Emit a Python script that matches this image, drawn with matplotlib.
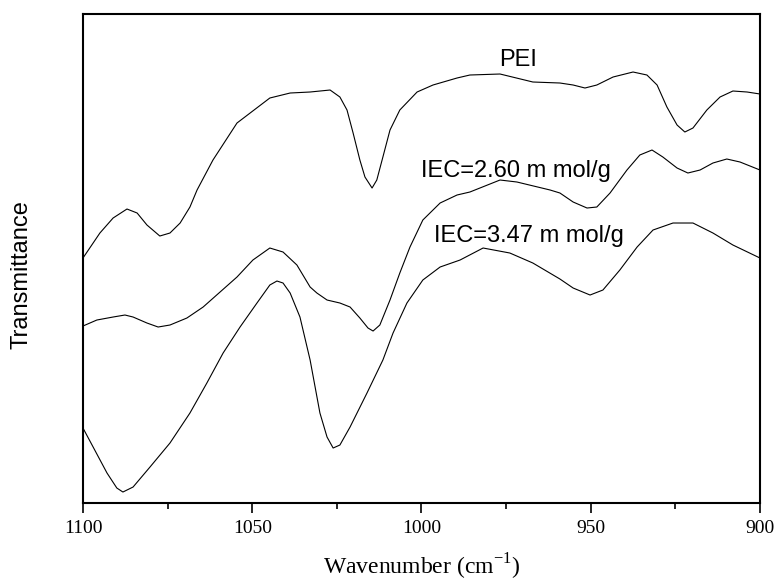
import matplotlib.pyplot as plt
from matplotlib.ticker import MultipleLocator

# =========================
# Data (transmittance in arbitrary units)
# =========================
pei_wn = [1100, 1095.0, 1091.1, 1087.0, 1084.0, 1081.1, 1077.3, 1074.3, 1071.3,
          1068.4, 1066.3, 1061.6, 1054.5, 1044.8, 1038.8, 1032.9, 1027.0, 1024.1,
          1022.0, 1020.2, 1018.2, 1016.7, 1014.6, 1013.2, 1011.4, 1009.3, 1006.4,
          1001.3, 996.6, 989.5, 985.7, 976.8, 967.1, 959.1, 955.2, 951.7, 948.2,
          943.4, 937.5, 933.4, 930.4, 927.5, 924.5, 922.2, 919.8, 915.7, 911.8,
          908.0, 903.8, 900]
pei_t = [245, 270, 285, 294, 290, 278, 267, 270, 280,
         296, 313, 343, 380, 405, 410, 411, 413, 406,
         393, 370, 343, 326, 315, 323, 346, 373, 393,
         411, 418, 425, 428, 429, 421, 420, 418, 415, 418,
         426, 431, 428, 418, 396, 378, 371, 375, 393, 406,
         412, 411, 409]

iec260_wn = [1100, 1095.9, 1091.1, 1087.6, 1085.2, 1081.1, 1077.8, 1074.3, 1069.3,
             1064.5, 1059.5, 1054.5, 1049.8, 1044.8, 1040.9, 1036.8, 1032.9, 1030.9,
             1027.9, 1024.1, 1021.1, 1018.2, 1015.8, 1014.3, 1012.3, 1009.3, 1006.4,
             1003.4, 999.6, 994.5, 989.5, 985.7, 976.8, 971.8, 962.0, 959.1, 955.2,
             951.1, 948.2, 944.3, 939.3, 935.5, 931.9, 928.7, 924.5, 921.3, 917.7,
             913.9, 909.8, 905.9, 900]
iec260_t = [177, 183, 186, 188, 186, 180, 176, 178, 185,
            196, 211, 226, 243, 255, 251, 238, 216, 210,
            203, 200, 196, 185, 175, 172, 178, 203, 230,
            256, 283, 300, 308, 311, 323, 321, 313, 310, 301,
            295, 296, 310, 333, 348, 353, 346, 335, 330, 333,
            340, 344, 341, 333]

iec347_wn = [1100, 1097.0, 1092.9, 1090.0, 1088.2, 1085.2, 1080.2, 1074.3, 1068.4,
             1063.4, 1058.6, 1053.6, 1048.6, 1044.8, 1042.7, 1040.9, 1038.8, 1035.9,
             1032.9, 1030.0, 1027.9, 1026.1, 1024.1, 1021.1, 1016.1, 1011.4, 1008.4,
             1004.3, 999.6, 994.5, 988.6, 981.8, 973.9, 967.1, 959.1, 955.2, 950.2,
             946.4, 941.4, 936.3, 931.6, 925.7, 919.8, 913.9, 908.0, 900]
iec347_t = [75, 56, 30, 15, 11, 16, 36, 60, 90,
            120, 150, 176, 200, 218, 222, 220, 210, 186,
            143, 90, 66, 55, 58, 76, 110, 143, 170,
            200, 223, 236, 243, 255, 250, 240, 224, 215, 208,
            213, 233, 256, 273, 280, 280, 270, 258, 245]

labels = ["PEI", "IEC=2.60 m mol/g", "IEC=3.47 m mol/g"]
label_pos = [(971.5, 443), (972.1, 332), (968.2, 267)]

# =========================
# Figure
# =========================
fig = plt.figure(figsize=(7.74, 5.86), dpi=100)
ax = fig.add_axes([0.1072, 0.1416, 0.8747, 0.8345])

for wn, t in [(pei_wn, pei_t), (iec260_wn, iec260_t), (iec347_wn, iec347_t)]:
    ax.plot(wn, t, color="black", lw=0.8)

for txt, (x, y) in zip(labels, label_pos):
    ax.text(x, y, txt, ha="center", va="center", fontsize=17,
            family="Liberation Sans")

ax.set_xlim(1100, 900)
ax.set_ylim(0, 489)
ax.xaxis.set_major_locator(MultipleLocator(50))
ax.xaxis.set_minor_locator(MultipleLocator(25))
ax.set_yticks([])
ax.tick_params(axis="x", which="major", direction="out", length=7, width=1.2,
               pad=5, labelsize=14)
ax.tick_params(axis="x", which="minor", direction="out", length=4.5, width=1.2)
for lab in ax.get_xticklabels():
    lab.set_family("Liberation Serif")
for sp in ax.spines.values():
    sp.set_linewidth(1.5)

ax.set_xlabel("Wavenumber (cm$^{\\mathregular{-1}}$)", fontsize=17,
              family="Liberation Serif", labelpad=11)
ax.set_ylabel("Transmittance", fontsize=17, family="Liberation Sans")
ax.yaxis.set_label_coords(-0.074, 0.468)

fig.savefig("out.png", dpi=100)
